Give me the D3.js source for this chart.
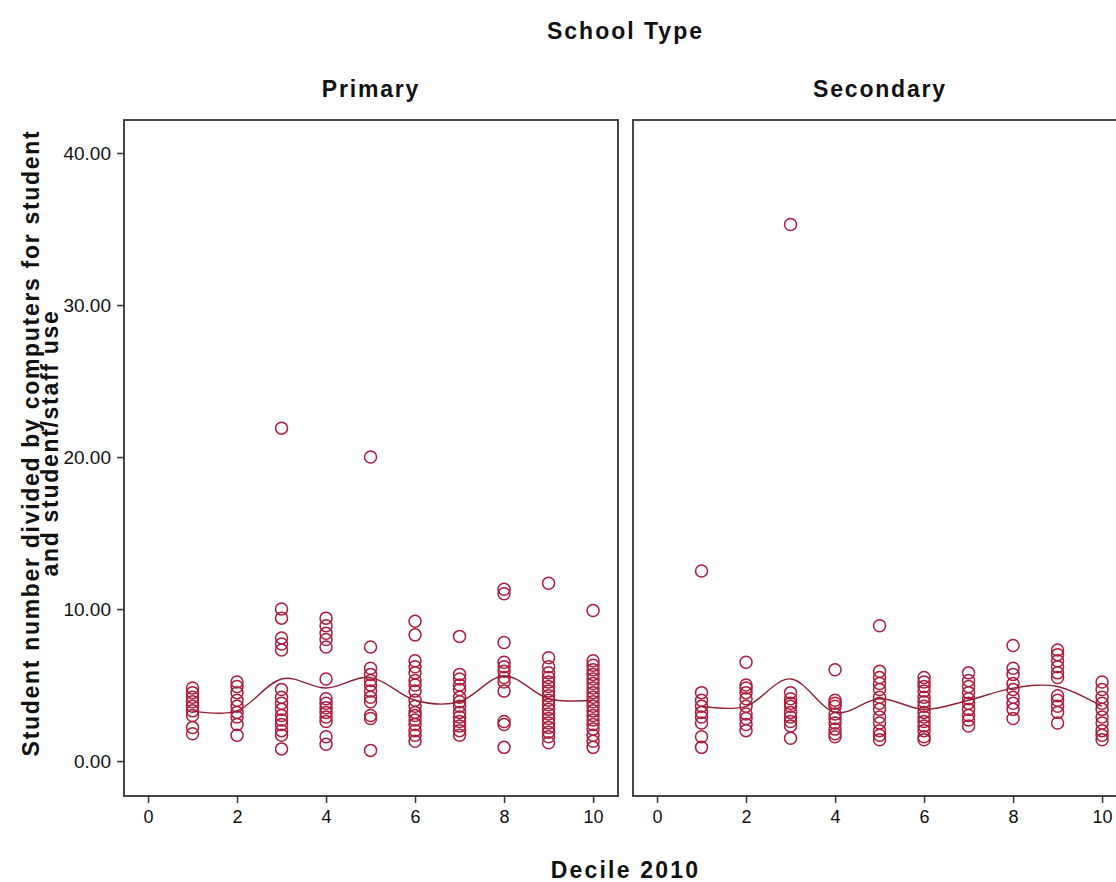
<!DOCTYPE html>
<html>
<head>
<meta charset="utf-8">
<script src="https://cdn.jsdelivr.net/npm/d3@7"></script>
<style>
  body { margin: 0; background: #fff; }
  svg { display: block; }
  text { font-family: "Liberation Sans", Arial, sans-serif; fill: #111; }
</style>
</head>
<body>
<svg id="chart" width="1116" height="882"></svg>
<script>
// Decile groups on the x axis
const deciles = [1, 2, 3, 4, 5, 6, 7, 8, 9, 10];

// Students per computer, one list per decile (Primary schools)
const primaryValues = [
  [4.8, 4.5, 4.2, 3.9, 3.6, 3.3, 3.0, 2.2, 1.8],
  [5.2, 4.9, 4.5, 4.0, 3.6, 3.2, 2.9, 2.4, 1.7],
  [21.9, 10.0, 9.4, 8.1, 7.7, 7.3, 4.7, 4.2, 3.8, 3.4, 3.0, 2.7, 2.4, 2.0, 1.7, 0.8],
  [9.4, 8.9, 8.4, 8.0, 7.5, 5.4, 4.1, 3.8, 3.5, 3.2, 2.9, 2.6, 1.6, 1.1],
  [20.0, 7.5, 6.1, 5.7, 5.3, 5.0, 4.6, 4.2, 3.9, 3.0, 2.8, 0.7],
  [9.2, 8.3, 6.6, 6.2, 5.8, 5.3, 5.0, 4.6, 4.0, 3.6, 3.2, 3.0, 2.7, 2.4, 2.0, 1.7, 1.3],
  [8.2, 5.7, 5.4, 5.0, 4.7, 4.2, 3.9, 3.6, 3.2, 2.9, 2.6, 2.3, 2.0, 1.7],
  [11.3, 11.0, 7.8, 6.5, 6.2, 5.9, 5.5, 5.2, 4.6, 2.6, 2.4, 0.9],
  [11.7, 6.8, 6.2, 5.8, 5.5, 5.2, 4.9, 4.6, 4.3, 4.0, 3.7, 3.4, 3.1, 2.8, 2.5, 2.2, 1.9, 1.6, 1.2],
  [9.9, 6.6, 6.3, 6.0, 5.7, 5.4, 5.1, 4.8, 4.5, 4.2, 3.9, 3.6, 3.3, 3.0, 2.7, 2.4, 2.1, 1.7, 1.3, 0.9]
];

// Students per computer, one list per decile (Secondary schools)
const secondaryValues = [
  [12.5, 4.5, 4.0, 3.6, 3.2, 2.9, 2.5, 1.6, 0.9],
  [6.5, 5.0, 4.8, 4.5, 4.1, 3.6, 3.1, 2.8, 2.4, 2.0],
  [35.3, 4.5, 4.1, 3.8, 3.6, 3.2, 2.9, 2.6, 2.3, 1.5],
  [6.0, 4.0, 3.8, 3.6, 3.1, 2.8, 2.5, 2.1, 1.8, 1.6],
  [8.9, 5.9, 5.5, 5.1, 4.7, 4.2, 3.8, 3.4, 2.9, 2.5, 2.0, 1.7, 1.4],
  [5.5, 5.2, 4.9, 4.6, 4.2, 3.9, 3.6, 3.2, 2.9, 2.6, 2.3, 2.0, 1.6, 1.4],
  [5.8, 5.3, 4.9, 4.5, 4.1, 3.8, 3.4, 3.0, 2.7, 2.3],
  [7.6, 6.1, 5.7, 5.1, 4.7, 4.2, 3.8, 3.4, 2.8],
  [7.3, 7.0, 6.6, 6.2, 5.8, 5.5, 4.3, 4.0, 3.6, 3.2, 2.5],
  [5.2, 4.7, 4.2, 3.8, 3.4, 2.9, 2.5, 2.0, 1.7, 1.4]
];

// Interpolation line level at each decile
const primaryLine   = [3.3, 3.3, 5.4, 4.8, 5.5, 4.0, 3.9, 5.6, 4.1, 4.0];
const secondaryLine = [3.6, 3.6, 5.4, 3.2, 4.1, 3.4, 4.0, 4.8, 4.9, 3.6];

// Panel names and axis ticks
const panelNames = ["Primary", "Secondary"];
const xTicks = [0, 2, 4, 6, 8, 10];
const yTicks = [0, 10, 20, 30, 40];

const panels = [
  { name: panelNames[0], values: primaryValues, line: primaryLine },
  { name: panelNames[1], values: secondaryValues, line: secondaryLine }
];

const svg = d3.select("#chart");

const panelLeft = [124, 633];
const panelTop = 120;
const panelW = 494;
const panelH = 676;

const x = d3.scaleLinear().domain([-0.54, 10.56]).range([0, panelW]);
const y = d3.scaleLinear().domain([-2.3, 42.17]).range([panelH, 0]);

const markColor = "#ad1a3a";
const lineColor = "#8e2233";

const line = d3.line()
  .x((d, i) => x(deciles[i]))
  .y(d => y(d))
  .curve(d3.curveCatmullRom.alpha(0));

panels.forEach((p, pi) => {
  const g = svg.append("g")
    .attr("transform", `translate(${panelLeft[pi]},${panelTop})`);

  // panel title
  svg.append("text")
    .attr("x", panelLeft[pi] + panelW / 2)
    .attr("y", 97)
    .attr("text-anchor", "middle")
    .style("font-size", "23px")
    .style("font-weight", "bold")
    .style("letter-spacing", "1.8px")
    .text(p.name);

  // points
  const pts = [];
  p.values.forEach((vals, i) => vals.forEach(v => pts.push({ d: deciles[i], v })));
  g.selectAll("circle.pt")
    .data(pts)
    .join("circle")
    .attr("class", "pt")
    .attr("cx", d => x(d.d))
    .attr("cy", d => y(d.v))
    .attr("r", 6)
    .attr("fill", "none")
    .attr("stroke", markColor)
    .attr("stroke-width", 1.5);

  // interpolation line
  g.append("path")
    .datum(p.line)
    .attr("d", line)
    .attr("fill", "none")
    .attr("stroke", lineColor)
    .attr("stroke-width", 1.4);

  // frame
  g.append("rect")
    .attr("x", 0).attr("y", 0)
    .attr("width", panelW).attr("height", panelH)
    .attr("fill", "none")
    .attr("stroke", "#333")
    .attr("stroke-width", 1.8);

  // x axis
  const xa = g.append("g")
    .attr("transform", `translate(0,${panelH})`)
    .call(d3.axisBottom(x).tickValues(xTicks).tickSize(7).tickSizeOuter(0).tickPadding(7).tickFormat(d3.format("d")));
  xa.select(".domain").remove();
  xa.selectAll(".tick line").attr("stroke", "#333").attr("stroke-width", 1.5);
  xa.selectAll(".tick text").style("font-size", "18px").attr("fill", "#111");

  // y axis (left panel only)
  if (pi === 0) {
    const ya = g.append("g")
      .call(d3.axisLeft(y).tickValues(yTicks).tickSize(7).tickSizeOuter(0).tickPadding(6).tickFormat(d3.format(".2f")));
    ya.select(".domain").remove();
    ya.selectAll(".tick line").attr("stroke", "#333").attr("stroke-width", 1.5);
    ya.selectAll(".tick text").style("font-size", "19px").attr("fill", "#111");
  }
});

// facet header
svg.append("text")
  .attr("x", (panelLeft[0] + panelLeft[1] + panelW) / 2)
  .attr("y", 39)
  .attr("text-anchor", "middle")
  .style("font-size", "23px")
  .style("font-weight", "bold")
  .style("letter-spacing", "2px")
  .text("School Type");

// x axis title
svg.append("text")
  .attr("x", (panelLeft[0] + panelLeft[1] + panelW) / 2)
  .attr("y", 878)
  .attr("text-anchor", "middle")
  .style("font-size", "23px")
  .style("font-weight", "bold")
  .style("letter-spacing", "2.2px")
  .text("Decile 2010");

// y axis title (two lines)
const yTitle = svg.append("text")
  .attr("transform", `translate(0,443) rotate(-90)`)
  .attr("text-anchor", "middle")
  .style("font-size", "23px")
  .style("font-weight", "bold")
  .style("letter-spacing", "1.7px");
yTitle.append("tspan").attr("x", 0).attr("y", 39).text("Student number divided by computers for student");
yTitle.append("tspan").attr("x", 0).attr("y", 58).text("and student/staff use");
</script>
</body>
</html>
